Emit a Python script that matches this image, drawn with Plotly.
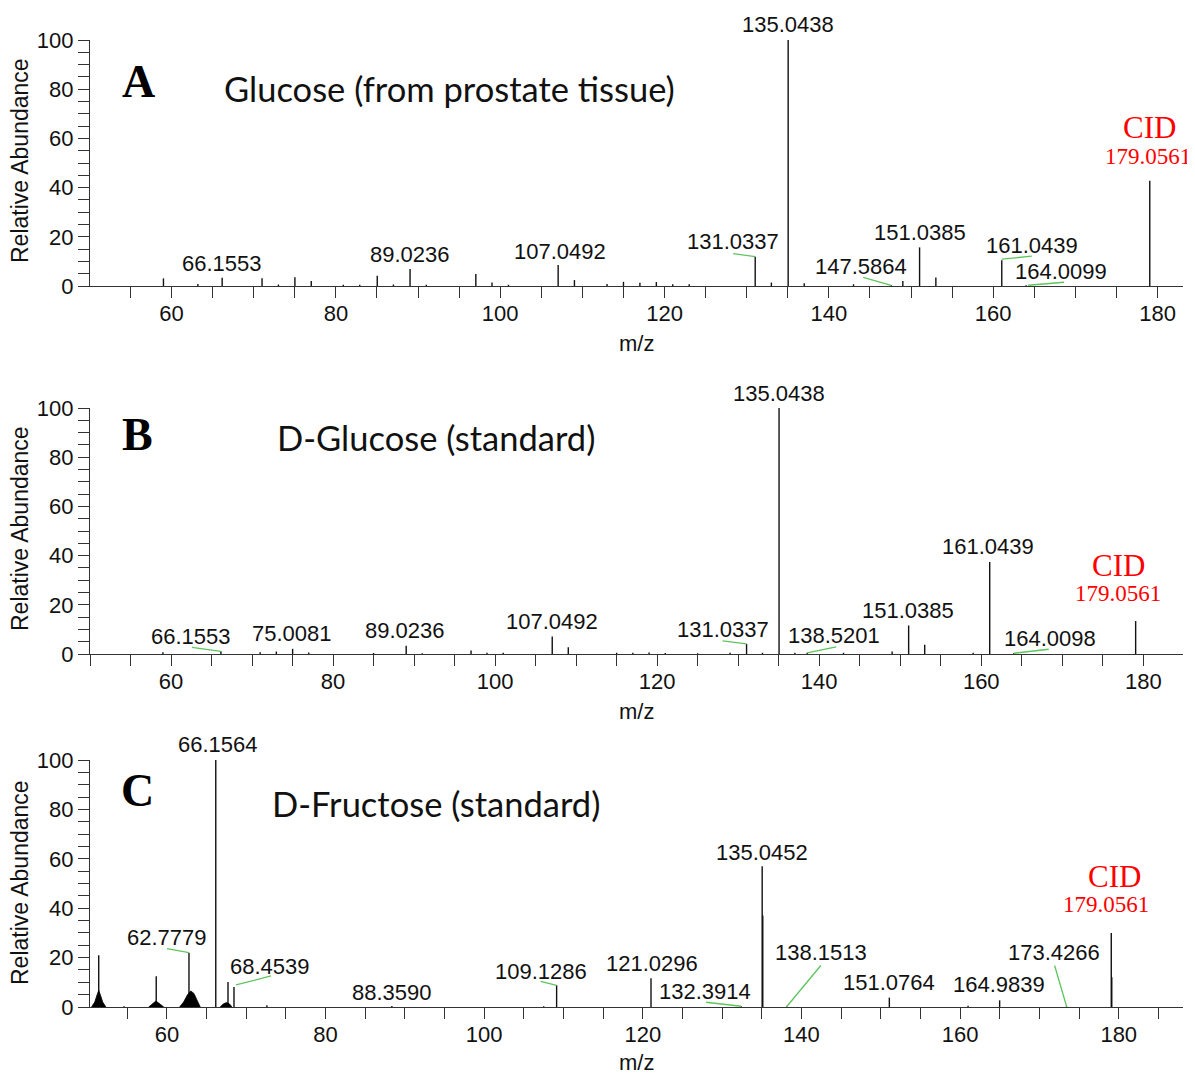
import plotly.graph_objects as go

# ---------------- data ----------------
mz_A = [59.01, 63.2, 66.1553, 71.01, 73.0, 75.01, 77.0, 80.9, 82.9, 85.03, 87.0,
        89.0236, 91.0, 97.03, 99.0, 101.0, 107.0492, 109.03, 113.0, 115.0, 117.0,
        119.0, 121.0, 123.0, 131.0337, 133.0, 135.0438, 137.0, 143.0, 147.5864,
        149.0, 151.0385, 153.02, 161.0439, 164.0099, 179.0561]
int_A = [3.1, 0.8, 3.4, 3.1, 0.6, 3.6, 2.0, 0.5, 0.5, 4.2, 0.6,
         6.9, 0.5, 4.9, 1.4, 0.5, 8.5, 2.4, 0.8, 1.7, 1.3,
         1.6, 0.7, 0.7, 11.9, 1.4, 100.0, 1.1, 0.7, 0.3,
         2.0, 15.7, 3.5, 10.5, 0.3, 42.8]

mz_B = [59.0, 66.1553, 71.0, 73.0, 75.0081, 77.0, 85.0, 89.0236, 91.0, 97.03, 99.0,
        101.0, 107.0492, 109.03, 115.0, 117.0, 119.0, 121.0, 125.0, 129.0,
        131.0337, 133.0, 135.0438, 137.0, 138.5201, 143.0, 149.0, 151.0385,
        153.02, 159.0, 161.0439, 164.0098, 179.0561]
int_B = [0.7, 1.1, 0.7, 1.0, 2.1, 0.6, 0.4, 3.4, 0.3, 1.4, 0.5,
         0.5, 7.1, 2.7, 0.5, 0.5, 0.6, 0.4, 0.3, 0.5,
         4.1, 0.5, 100.0, 0.5, 0.5, 0.5, 1.0, 11.6,
         3.8, 0.5, 37.4, 0.3, 13.4]

mz_C = [51.4, 54.6, 58.65, 62.7779, 66.1564, 67.7, 68.4539, 72.6, 88.3590, 107.5,
        109.1286, 121.0296, 132.3914, 135.0452, 135.12, 138.1513, 151.0764, 161.0,
        164.9839, 173.4266, 179.0561, 179.12]
int_C = [21.0, 0.3, 12.4, 22.0, 100.0, 10.1, 8.1, 0.7, 0.4, 0.3,
         8.8, 11.6, 0.3, 57.0, 37.0, 0.2, 3.8, 0.5,
         2.7, 0.2, 30.0, 12.0]

# broad unresolved clusters in panel C (outline points)
hump1_mz = [50.5, 50.9, 51.2, 51.4, 51.6, 51.9, 52.3]
hump1_int = [0.0, 2.0, 5.0, 6.7, 5.0, 2.0, 0.0]
hump2_mz = [57.7, 58.2, 58.6, 59.0, 59.6]
hump2_int = [0.0, 1.5, 2.4, 1.5, 0.0]
hump3_mz = [61.6, 62.1, 62.6, 63.0, 63.4, 63.8, 64.2]
hump3_int = [0.0, 2.0, 5.0, 6.5, 5.5, 2.5, 0.0]
hump4_mz = [66.7, 67.1, 67.5, 67.9, 68.2]
hump4_int = [0.0, 1.2, 1.8, 1.2, 0.0]

labels_A = ["135.0438", "66.1553", "89.0236", "107.0492", "131.0337", "151.0385",
            "147.5864", "161.0439", "164.0099"]
labels_B = ["135.0438", "161.0439", "151.0385", "107.0492", "89.0236", "75.0081",
            "66.1553", "131.0337", "138.5201", "164.0098"]
labels_C = ["66.1564", "62.7779", "68.4539", "88.3590", "109.1286", "121.0296",
            "132.3914", "135.0452", "138.1513", "151.0764", "164.9839", "173.4266"]
precursor = "179.0561"

titles = ["Glucose (from prostate tissue)", "D-Glucose (standard)", "D-Fructose (standard)"]
letters = ["A", "B", "C"]

# ---------------- layout / style ----------------
W, H, OFF = 1187, 1070, 8
SANS = "Liberation Sans, Arial, sans-serif"
SERIF = "Liberation Serif, Times New Roman, serif"
GREEN = "#5cc45c"

# label placement: text -> (dx, dy, leader)  (screen pixels, y down)
place_A = {
    "135.0438": (0, -16, None), "66.1553": (0, -14, None), "89.0236": (0, -15, None),
    "107.0492": (2, -14, None), "131.0337": (-22, -15, (0, 0, -22, -3)),
    "151.0385": (0, -15, None), "147.5864": (-30, -19, (0, 0, -28, -8)),
    "161.0439": (30, -15, (0, -1, 30, -4)), "164.0099": (35, -14, (2, 0, 38, -3)),
}
place_B = {
    "135.0438": (0, -15, None), "161.0439": (-2, -16, None), "151.0385": (-1, -15, None),
    "107.0492": (0, -15, None), "89.0236": (-1, -15, None), "75.0081": (-1, -15, None),
    "66.1553": (-30, -15, (0, 0, -29, -4)), "131.0337": (-24, -14, (0, 0, -24, -3)),
    "138.5201": (27, -17, (0, 0, 29, -6)), "164.0098": (36, -15, (0, 0, 35, -4)),
}
place_C = {
    "66.1564": (2, -16, None), "62.7779": (-22, -15, (0, 0, -22, -4)),
    "68.4539": (36, -20, (2, -2, 37, -11)), "88.3590": (0, -14, None),
    "109.1286": (-16, -14, (0, 0, -16, -4)), "121.0296": (1, -15, None),
    "132.3914": (-36, -15, (0, 0, -35, -4)), "135.0452": (0, -14, None),
    "138.1513": (34, -54, (0, 0, 34, -41)), "151.0764": (0, -15, None),
    "164.9839": (-1, -16, None), "173.4266": (-13, -54, (0, 0, -12, -41)),
}
cid_place = [((0, -53), (-2, -24)), ((-17, -56), (-18, -28)), ((3, -56), (-5, -28))]

xranges = [[50.07, 183.1], [50.0, 184.9], [50.3, 188.1]]
# panel boxes in reference pixels: (top of y=100, y=0 line)
ybox = [(40, 286), (408, 654), (760, 1007)]
XL, XR = 90, 1183
title_pos = [((138, 82), (222, 88)), ((137, 434), (275, 438)), ((137, 790), (270, 803))]
ylab_y = [161, 529, 883]
mz_y = [343, 711, 1062]


def px(x):
    return (x - OFF) / W


def py(y):
    return 1 - (y - OFF) / H


fig = go.Figure()
annotations = []
shapes = []

panels = [(mz_A, int_A, labels_A, place_A), (mz_B, int_B, labels_B, place_B),
          (mz_C, int_C, labels_C, place_C)]

for i, (mz, inten, labs, place) in enumerate(panels):
    n = "" if i == 0 else str(i + 1)
    xa, ya = "x" + n, "y" + n
    xs, ys = [], []
    for m, h in zip(mz, inten):
        xs += [m, m, None]
        ys += [0, h, None]
    fig.add_trace(go.Scatter(x=xs, y=ys, mode="lines", line=dict(color="#111111", width=1.4),
                             xaxis=xa, yaxis=ya, hoverinfo="skip", showlegend=False))
    if i == 2:
        for hx, hy in [(hump1_mz, hump1_int), (hump2_mz, hump2_int),
                       (hump3_mz, hump3_int), (hump4_mz, hump4_int)]:
            fig.add_trace(go.Scatter(x=hx, y=hy, mode="lines", fill="toself",
                                     fillcolor="#000000", line=dict(color="#000000", width=0.8),
                                     xaxis=xa, yaxis=ya, hoverinfo="skip", showlegend=False))

    lookup = dict(zip(mz, inten))
    for lab in labs:
        m = float(lab)
        h = lookup[m]
        dx, dy, leader = place[lab]
        annotations.append(dict(x=m, y=h, xref=xa, yref=ya, text=lab, showarrow=False,
                                xanchor="center", yanchor="middle", xshift=dx, yshift=-dy,
                                font=dict(family=SANS, size=22, color="#111111")))
        if leader:
            x0, y0, x1, y1 = leader
            shapes.append(dict(type="line", xref=xa, yref=ya, xsizemode="pixel",
                               ysizemode="pixel", xanchor=m, yanchor=h,
                               x0=x0, y0=-y0, x1=x1, y1=-y1,
                               line=dict(color=GREEN, width=1.3)))
    # precursor
    pm = float(precursor)
    ph = lookup[pm]
    (cdx, cdy), (ndx, ndy) = cid_place[i]
    annotations.append(dict(x=pm, y=ph, xref=xa, yref=ya, text="CID", showarrow=False,
                            xanchor="center", yanchor="middle", xshift=cdx, yshift=-cdy,
                            font=dict(family=SERIF, size=31, color="#ff0000")))
    annotations.append(dict(x=pm, y=ph, xref=xa, yref=ya, text=precursor, showarrow=False,
                            xanchor="center", yanchor="middle", xshift=ndx, yshift=-ndy,
                            font=dict(family=SERIF, size=23, color="#ff0000")))

    # titles and axis labels
    (lx, ly), (tx, ty) = title_pos[i]
    annotations.append(dict(x=px(lx), y=py(ly), xref="paper", yref="paper", text="<b>%s</b>" % letters[i],
                            showarrow=False, xanchor="center", yanchor="middle",
                            font=dict(family=SERIF, size=46, color="#000000")))
    annotations.append(dict(x=px(tx), y=py(ty), xref="paper", yref="paper", text=titles[i],
                            showarrow=False, xanchor="left", yanchor="middle",
                            font=dict(family="Lato, Open Sans, sans-serif", size=34.5, color="#111111")))
    annotations.append(dict(x=px(20), y=py(ylab_y[i]), xref="paper", yref="paper",
                            text="Relative Abundance", textangle=-90, showarrow=False,
                            xanchor="center", yanchor="middle",
                            font=dict(family=SANS, size=23, color="#111111")))
    annotations.append(dict(x=px((XL + XR) / 2), y=py(mz_y[i]), xref="paper", yref="paper",
                            text="m/z", showarrow=False, xanchor="center", yanchor="middle",
                            font=dict(family=SANS, size=22, color="#111111")))

    top, bot = ybox[i]
    axis_common = dict(showline=True, linecolor="#333333", linewidth=1.4, ticks="outside",
                       ticklen=11, tickwidth=1.3, tickcolor="#333333", showgrid=False,
                       zeroline=False, automargin=False,
                       tickfont=dict(family=SANS, size=22, color="#111111"))
    fig.update_layout(**{
        "xaxis" + n: dict(domain=[px(XL), px(XR)], range=xranges[i], anchor=ya,
                          dtick=20, tick0=0, ticklabelstandoff=-4,
                          minor=dict(dtick=5, tick0=0, ticks="outside", ticklen=11,
                                     tickwidth=1.3, tickcolor="#333333", showgrid=False),
                          **axis_common),
        "yaxis" + n: dict(domain=[py(bot), py(top)], range=[0, 100], anchor=xa,
                          dtick=20, tick0=0,
                          minor=dict(dtick=5, tick0=0, ticks="outside", ticklen=11,
                                     tickwidth=1.3, tickcolor="#333333", showgrid=False),
                          **axis_common),
    })

fig.update_layout(width=W, height=H, margin=dict(l=0, r=0, t=0, b=0),
                  paper_bgcolor="white", plot_bgcolor="white",
                  annotations=annotations, shapes=shapes, showlegend=False)

fig.write_html("out.html")
